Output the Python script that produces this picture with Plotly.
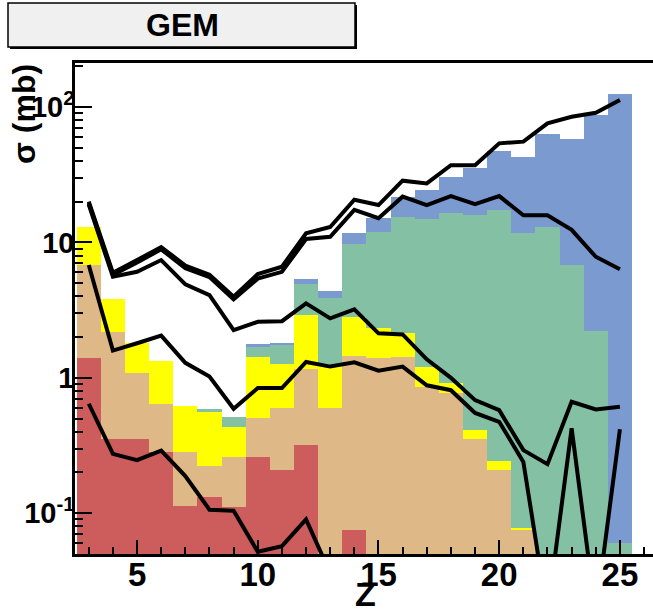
import plotly.graph_objects as go

# ---------------------------------------------------------------- data
Z = list(range(3, 26))

# cumulative histogram contents per element Z (each band includes those drawn over it)
h_total = [12.9, 3.82, 1.80, 1.33, 0.621, 0.584, 0.509, 1.78, 1.80, 5.40, 4.40, 11.7,
           15.2, 21.8, 24.4, 30.6, 35.3, 47.6, 42.6, 63.0, 58.1, 87.0, 126.0]
h_green = [12.9, 3.82, 1.80, 1.33, 0.621, 0.584, 0.509, 1.69, 1.75, 4.90, 3.92, 9.70,
           12.0, 15.4, 14.9, 16.5, 16.0, 17.4, 11.8, 12.9, 6.77, 2.21, 0.060]
h_yellow = [12.9, 3.82, 1.80, 1.33, 0.621, 0.561, 0.434, 1.43, 1.27, 2.91, 1.24, 2.82,
            2.32, 2.13, 1.21, 0.909, 0.411, 0.242, 0.078, 0, 0, 0, 0]
h_tan = [6.80, 2.17, 1.08, 0.636, 0.281, 0.224, 0.261, 0.506, 0.600, 1.16, 0.600, 1.44,
         1.39, 1.42, 0.85, 0.767, 0.356, 0.208, 0.0749, 0, 0, 0, 0]
h_red = [1.39, 0.356, 0.356, 0.281, 0.113, 0.132, 0.111, 0.261, 0.208, 0.318, 0, 0.0749,
         0, 0, 0, 0, 0, 0, 0, 0, 0, 0, 0]

# model curves
c_total = [20.0, 5.97, 7.41, 9.25, 6.75, 5.78, 3.97, 5.85, 6.61, 11.7, 13.0, 20.7,
           18.9, 28.6, 27.3, 37.2, 37.2, 54.0, 55.6, 75.9, 84.9, 90.9, 113.0]
c_second = [19.5, 5.75, 7.10, 8.90, 6.45, 5.55, 3.80, 5.40, 6.07, 10.6, 11.0, 17.4,
            15.1, 21.8, 18.9, 22.0, 19.2, 22.0, 15.9, 15.9, 12.4, 7.84, 6.33]
c_third = [19.0, 5.58, 6.07, 7.41, 4.90, 4.08, 2.25, 2.59, 2.62, 3.55, 2.75, 3.20,
           2.13, 2.09, 1.37, 1.00, 0.684, 0.577, 0.292, 0.230, 0.665, 0.584, 0.610]
c_fourth = [6.81, 1.59, 1.80, 2.05, 1.29, 1.02, 0.59, 0.84, 0.84, 1.31, 1.21, 1.30,
            1.13, 1.21, 0.88, 0.81, 0.55, 0.473, 0.239, 0.018, 0.423, 0.018, 0.416]
c_fifth = [0.643, 0.274, 0.246, 0.290, 0.188, 0.106, 0.104, 0.0518, 0.057, 0.0898, 0.036,
           None, None, None, None, None, None, None, None, None, None, None, None]

y_tick_vals = [0.1, 1, 10, 100]
y_tick_text = ["10<sup>-1</sup>", "1", "10", "10<sup>2</sup>"]
x_tick_vals = [5, 10, 15, 20, 25]
x_tick_text = ["5", "10", "15", "20", "25"]

# ---------------------------------------------------------------- layout geometry
W, H = 653, 613
ML, MR, MT, MB = 75, 0, 63, 59
PW, PH = W - ML - MR, H - MT - MB


def px(x):
    return (x - ML) / PW


def py(y):
    return (H - MB - y) / PH


FONT = "Liberation Sans"
BLUE = "#7b9acf"
GREEN = "#84c0a4"
YELLOW = "#ffff00"
TAN = "#deb887"
RED = "#cd5c5c"

fig = go.Figure()

for vals, col in [(h_total, BLUE), (h_green, GREEN), (h_yellow, YELLOW),
                  (h_tan, TAN), (h_red, RED)]:
    fig.add_trace(go.Bar(
        x=Z, y=[v if v > 0 else None for v in vals], width=1,
        marker=dict(color=col, line=dict(width=0)), showlegend=False,
        hoverinfo="skip"))

for curve in [c_total, c_second, c_third, c_fourth, c_fifth]:
    fig.add_trace(go.Scatter(
        x=Z, y=curve, mode="lines", connectgaps=False,
        line=dict(color="black", width=4), showlegend=False, hoverinfo="skip"))

minor_y = [k * 10.0 ** e for e in range(-2, 3) for k in range(2, 10)]

fig.update_layout(
    width=W, height=H,
    margin=dict(l=ML, r=MR, t=MT, b=MB, pad=0),
    barmode="overlay", bargap=0,
    plot_bgcolor="white", paper_bgcolor="white",
    showlegend=False,
    font=dict(family=FONT, color="black"),
)

fig.update_xaxes(
    range=[2.43, 26.37], showgrid=False, zeroline=False,
    showline=True, linecolor="black", linewidth=2.5, mirror=True,
    ticks="inside", ticklen=14, tickwidth=2, tickcolor="black",
    tickvals=x_tick_vals, ticktext=x_tick_text,
    tickfont=dict(family=FONT, size=33, color="black", weight="bold"),
    ticklabelstandoff=-10,
    minor=dict(ticks="inside", ticklen=7, tickwidth=2, tickcolor="black",
               dtick=1, tick0=0, showgrid=False),
)

fig.update_yaxes(
    type="log", range=[-1.302, 2.326], showgrid=False, zeroline=False,
    showline=True, linecolor="black", linewidth=2.5, mirror=False,
    ticks="inside", ticklen=17, tickwidth=2, tickcolor="black",
    tickvals=y_tick_vals, ticktext=y_tick_text,
    tickfont=dict(family=FONT, size=29, color="black", weight="bold"),
    ticklabelstandoff=-8,
    minor=dict(ticks="inside", ticklen=8, tickwidth=2, tickcolor="black",
               tickvals=minor_y, showgrid=False),
)

# title box with drop shadow
fig.add_shape(type="rect", xref="paper", yref="paper",
              x0=px(10), x1=px(357), y0=py(49), y1=py(5),
              fillcolor="black", line=dict(width=0), layer="above")
fig.add_shape(type="rect", xref="paper", yref="paper",
              x0=px(8), x1=px(355), y0=py(47), y1=py(3),
              fillcolor="#f0f0f0", line=dict(color="black", width=1.5), layer="above")

fig.add_annotation(text="GEM", xref="paper", yref="paper",
                   x=px(182), y=py(25), xanchor="center", yanchor="middle",
                   showarrow=False,
                   font=dict(family=FONT, size=32, color="black", weight="bold"))

fig.add_annotation(text="σ (mb)", xref="paper", yref="paper",
                   x=px(24), y=py(114), xanchor="center", yanchor="middle",
                   textangle=-90, showarrow=False,
                   font=dict(family=FONT, size=32, color="black", weight="bold"))

fig.add_annotation(text="Z", xref="paper", yref="paper",
                   x=px(365), y=py(594), xanchor="center", yanchor="middle",
                   showarrow=False, borderpad=0,
                   font=dict(family=FONT, size=34, color="black", weight="bold"))

fig.write_html("out.html")
